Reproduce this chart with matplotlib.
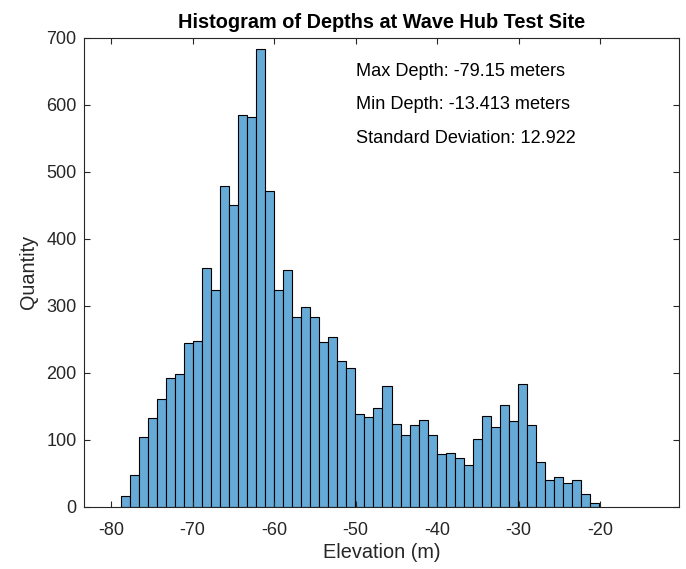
import matplotlib
matplotlib.use("Agg")
import matplotlib.pyplot as plt
import numpy as np

# histogram counts (53 bins)
counts = [16, 48, 104, 132, 161, 192, 198, 245, 248, 356,
          324, 479, 450, 585, 581, 683, 472, 323, 354, 284,
          299, 284, 246, 253, 218, 208, 138, 134, 148, 181,
          124, 108, 122, 129, 108, 79, 81, 73, 63, 102,
          136, 120, 152, 128, 184, 122, 67, 40, 44, 36,
          40, 20, 6]
edge_lo = -78.85
edge_hi = -20.1
stat_lines = ["Max Depth: -79.15 meters",
              "Min Depth: -13.413 meters",
              "Standard Deviation: 12.922"]
stat_y = [650, 600, 550]

plt.rcParams['font.family'] = ['Liberation Sans', 'DejaVu Sans']
plt.rcParams['axes.unicode_minus'] = False

edges = np.linspace(edge_lo, edge_hi, len(counts) + 1)
centers = (edges[:-1] + edges[1:]) / 2

fig = plt.figure(figsize=(6.86, 5.69), dpi=100)
ax = fig.add_axes([0.1229, 0.109, 0.867, 0.8248])

ax.hist(centers, bins=edges, weights=counts, color=(0.4, 0.668, 0.845),
        edgecolor='black', linewidth=0.8)

ax.set_xlim(-83.3, -10.3)
ax.set_ylim(0, 700)
ax.set_xticks(np.arange(-80, -19, 10))
ax.set_yticks(np.arange(0, 701, 100))

gray = '#262626'
for s in ax.spines.values():
    s.set_color(gray)
    s.set_linewidth(0.8)
ax.tick_params(direction='in', top=True, right=True, length=4.2, width=0.8,
               colors=gray, labelsize=13)
ax.tick_params(axis='x', pad=11)
ax.tick_params(axis='y', pad=5.5)

ax.set_title("Histogram of Depths at Wave Hub Test Site", fontsize=14.3,
             fontweight='bold', color='black', pad=7)
ax.set_xlabel("Elevation (m)", fontsize=14.3, color=gray, labelpad=3)
ax.set_ylabel("Quantity", fontsize=14.3, color=gray, labelpad=6)

for t, y in zip(stat_lines, stat_y):
    ax.text(-50, y, t, fontsize=13.1, color='black', va='center', ha='left')

fig.savefig("out.png", dpi=100)
